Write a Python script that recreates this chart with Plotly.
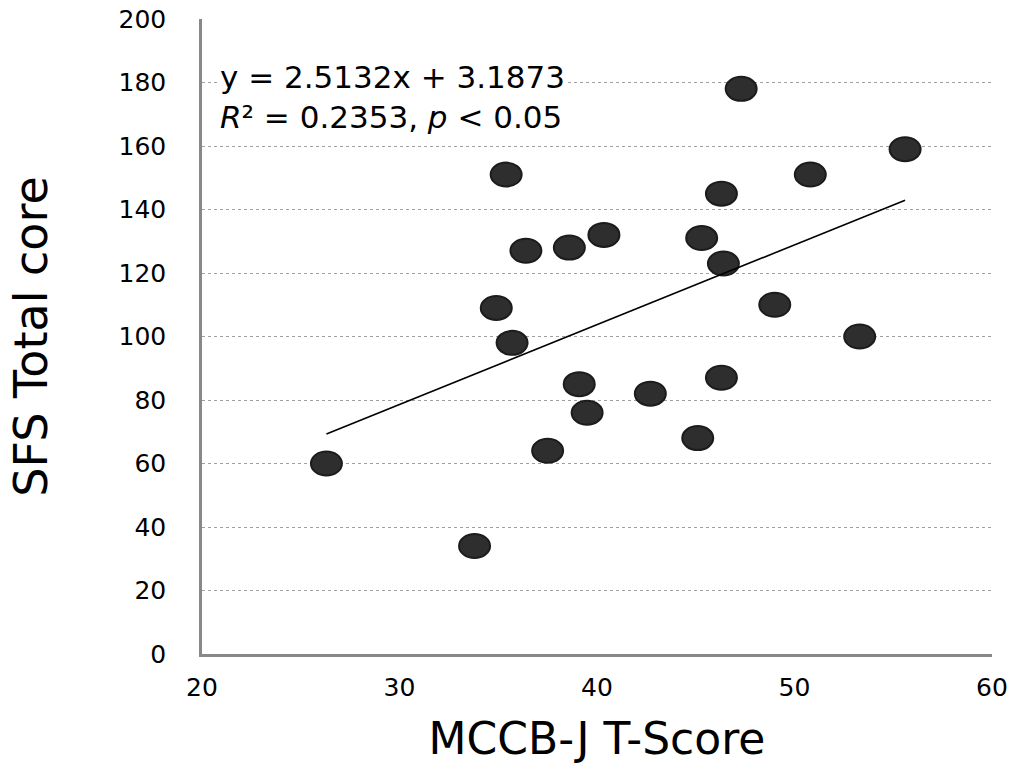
import plotly.graph_objects as go

# Data
mccb_t = [26.3, 33.8, 34.9, 35.4, 35.7, 36.4, 37.5, 38.6, 39.1, 39.5, 40.35,
          42.7, 45.1, 45.3, 46.3, 46.3, 46.4, 47.3, 49.0, 50.8, 53.3, 55.6]
sfs_total = [60, 34, 109, 151, 98, 127, 64, 128, 85, 76, 132,
             82, 68, 131, 145, 87, 123, 178, 110, 151, 100, 159]

slope = 2.5132
intercept = 3.1873
eq_text = "y = 2.5132x + 3.1873<br><i>R</i>² = 0.2353, <i>p</i> < 0.05"

x_ticks = [20, 30, 40, 50, 60]
y_ticks = [0, 20, 40, 60, 80, 100, 120, 140, 160, 180, 200]

FONT = "DejaVu Sans"

fig = go.Figure()

# Trendline from regression equation, spanning data range
x_line = [min(mccb_t), max(mccb_t)]
y_line = [slope * v + intercept for v in x_line]
fig.add_trace(go.Scatter(x=x_line, y=y_line, mode="lines",
                         line=dict(color="black", width=1.6),
                         hoverinfo="skip", showlegend=False))

# data points (hover layer); visible marks are ellipse shapes anchored at data
fig.add_trace(go.Scatter(x=mccb_t, y=sfs_total, mode="markers",
                         marker=dict(size=24, color="rgba(0,0,0,0)"),
                         showlegend=False))

shapes = []
for xv, yv in zip(mccb_t, sfs_total):
    shapes.append(dict(type="circle", xref="x", yref="y",
                       xsizemode="pixel", ysizemode="pixel",
                       xanchor=xv, yanchor=yv,
                       x0=-15.5, x1=15.5, y0=-12, y1=12,
                       fillcolor="#2e2e2e",
                       line=dict(color="#1c1c1c", width=2),
                       layer="between"))

fig.update_layout(
    width=1009, height=764,
    margin=dict(l=202, r=17, t=19, b=110),
    paper_bgcolor="white", plot_bgcolor="white",
    font=dict(family=FONT, color="black"),
    shapes=shapes,
    showlegend=False,
    xaxis=dict(range=[20, 60], tickvals=x_ticks, showgrid=False, zeroline=False,
               showline=True, linecolor="#888888", linewidth=2.5,
               ticks="", ticklabelstandoff=9, automargin=False,
               ticklabeloverflow="allow",
               tickfont=dict(family=FONT, size=25, color="black"),
               title=dict(text="MCCB-J T-Score", standoff=26,
                          font=dict(family=FONT, size=44, color="black"))),
    yaxis=dict(range=[0, 200], tickvals=y_ticks, showgrid=True,
               gridcolor="#a0a0a0", griddash="dot", gridwidth=1, zeroline=False,
               showline=True, linecolor="#888888", linewidth=2.5,
               ticks="", ticklabelstandoff=28, automargin=False,
               ticklabeloverflow="allow",
               tickfont=dict(family=FONT, size=25, color="black"),
               title=dict(text="SFS Total core", standoff=57,
                          font=dict(family=FONT, size=46, color="black"))),
)

fig.add_annotation(xref="paper", yref="paper", x=0.02, y=0.877,
                   xanchor="left", yanchor="middle", showarrow=False,
                   align="left", text=eq_text, bgcolor="white",
                   font=dict(family=FONT, size=31, color="black"))

# remove the default 8px page margin so the figure fills the window exactly
fig.write_html("out.html",
               config={"displayModeBar": False},
               post_script="document.body.style.margin='0';")
